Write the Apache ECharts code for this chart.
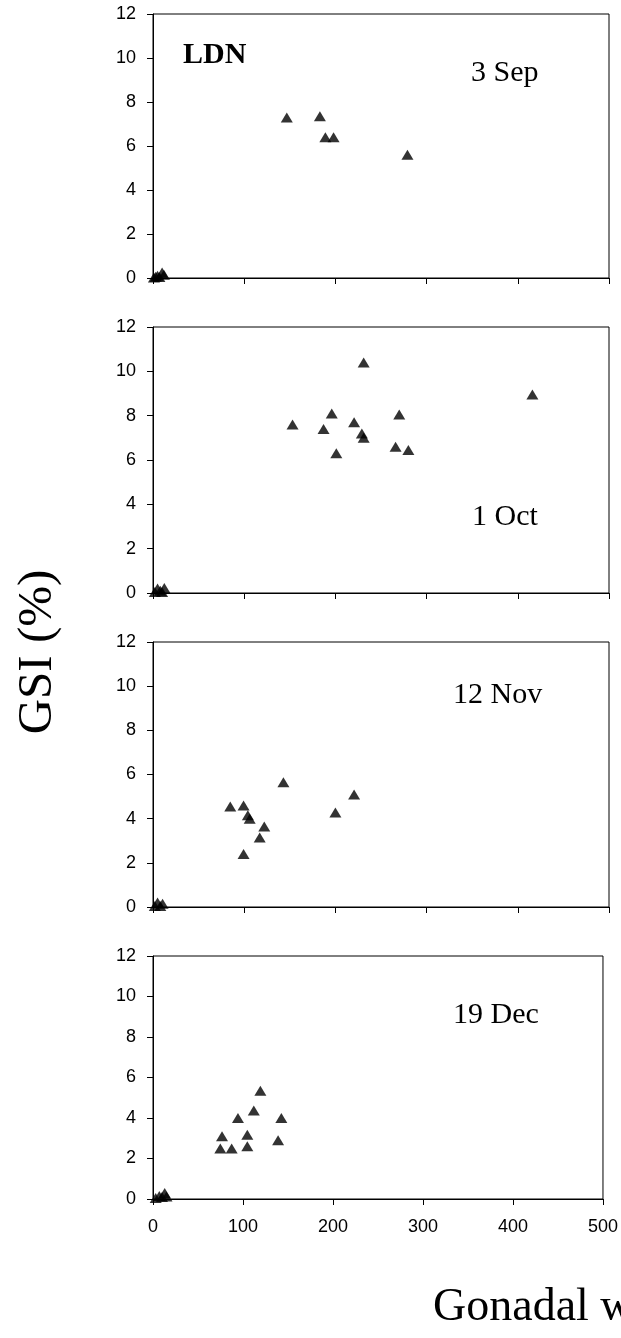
<!DOCTYPE html>
<html>
<head>
<meta charset="utf-8">
<title>GSI vs gonadal weight</title>
<script src="https://cdn.jsdelivr.net/npm/echarts@6/dist/echarts.min.js"></script>
<style>
  html, body { margin: 0; padding: 0; background: #fff; }
  #chart { width: 621px; height: 1338px; }
</style>
</head>
<body>
<div id="chart"></div>
<script>
// Sampling dates, one panel each
const panelDates = ['3 Sep', '1 Oct', '12 Nov', '19 Dec'];

// [gonadal weight (g), GSI (%)] per fish
const sepData = [
  [1, 0.02], [3, 0.06], [5, 0.1], [7, 0.05], [10, 0.25], [12, 0.15],
  [146.7, 7.3], [183, 7.35], [189, 6.4], [198, 6.4], [279, 5.6]
];
const octData = [
  [2, 0.05], [5, 0.2], [8, 0.1], [10, 0.05], [12.4, 0.22],
  [153, 7.6], [187, 7.4], [196, 8.1], [201, 6.3], [220.5, 7.7], [231, 10.4],
  [229, 7.2], [231, 7.0], [266, 6.6], [270, 8.05], [280, 6.45], [416, 8.95]
];
const novData = [
  [2, 0.05], [5, 0.2], [8, 0.05], [10.5, 0.15],
  [84.7, 4.55], [99.3, 4.6], [104, 4.15], [106, 4.0], [122, 3.65], [117, 3.15],
  [99.3, 2.4], [143, 5.65], [200, 4.28], [220.5, 5.1]
];
const decData = [
  [3, 0.05], [7, 0.15], [10, 0.1], [13, 0.3], [15, 0.12],
  [76.7, 3.1], [74.8, 2.5], [87.4, 2.5], [94.4, 4.0], [104.8, 3.17], [104.8, 2.6],
  [112, 4.37], [119.3, 5.35], [139, 2.9], [142.6, 4.0]
];

// Axis ranges and tick steps
const xRange = [0, 500];
const xStep = 100;
const yRange = [0, 12];
const yStep = 2;

const stationLabel = 'LDN';
const yTitle = 'GSI (%)';
const xTitle = 'Gonadal weight (g)';

const panelData = [sepData, octData, novData, decData];

// Layout of the four stacked panels
const gridBoxes = [
  { left: 153, top: 14, width: 456, height: 264 },
  { left: 153, top: 327, width: 456, height: 266 },
  { left: 153, top: 642, width: 456, height: 265 },
  { left: 153, top: 956, width: 450, height: 243 }
];
// Date label anchor (left edge, vertical middle) per panel
const dateLabelPos = [[471, 73], [472, 517], [453, 695], [453, 1015]];

const serif = '"Liberation Serif", "Times New Roman", serif';
const sans = '"Liberation Sans", Arial, sans-serif';

const chart = echarts.init(document.getElementById('chart'), null, { renderer: 'canvas' });

const grids = gridBoxes.map(b => ({
  left: b.left, top: b.top, width: b.width, height: b.height,
  show: true, borderColor: '#000', borderWidth: 1, backgroundColor: 'transparent',
  containLabel: false
}));

const last = panelData.length - 1;

const xAxes = panelData.map((_, i) => ({
  type: 'value', gridIndex: i,
  min: xRange[0], max: xRange[1], interval: xStep,
  axisLine: { show: true, lineStyle: { color: '#000', width: 1 } },
  axisTick: { show: true, inside: false, length: 6, lineStyle: { color: '#000', width: 1 } },
  axisLabel: {
    show: i === last, color: '#000', fontFamily: sans, fontSize: 18, margin: 19
  },
  splitLine: { show: false }
}));

const yAxes = panelData.map((_, i) => ({
  type: 'value', gridIndex: i,
  min: yRange[0], max: yRange[1], interval: yStep,
  axisLine: { show: true, lineStyle: { color: '#000', width: 1 } },
  axisTick: { show: true, inside: false, length: 6, lineStyle: { color: '#000', width: 1 } },
  axisLabel: { color: '#000', fontFamily: sans, fontSize: 18, margin: 17 },
  splitLine: { show: false }
}));

const series = panelData.map((d, i) => ({
  type: 'scatter', xAxisIndex: i, yAxisIndex: i,
  data: d,
  symbol: 'triangle', symbolSize: [12, 10],
  itemStyle: { color: '#000' },
  clip: false, silent: true
}));

const graphics = [
  {
    type: 'text', x: 183, y: 55,
    style: { text: stationLabel, font: 'bold 30px ' + serif, fill: '#000',
             textAlign: 'left', textVerticalAlign: 'middle' }
  },
  {
    type: 'text', x: 38, y: 652, rotation: Math.PI / 2,
    style: { text: yTitle, font: '49px ' + serif, fill: '#000',
             textAlign: 'center', textVerticalAlign: 'middle' }
  },
  {
    type: 'text', x: 433, y: 1308,
    style: { text: xTitle, font: '46px ' + serif, fill: '#000',
             textAlign: 'left', textVerticalAlign: 'middle' }
  }
].concat(panelDates.map((t, i) => ({
  type: 'text', x: dateLabelPos[i][0], y: dateLabelPos[i][1],
  style: { text: t, font: '30px ' + serif, fill: '#000',
           textAlign: 'left', textVerticalAlign: 'middle' }
})));

chart.setOption({
  animation: false,
  backgroundColor: '#fff',
  grid: grids,
  xAxis: xAxes,
  yAxis: yAxes,
  series: series,
  graphic: graphics
});
</script>
</body>
</html>
